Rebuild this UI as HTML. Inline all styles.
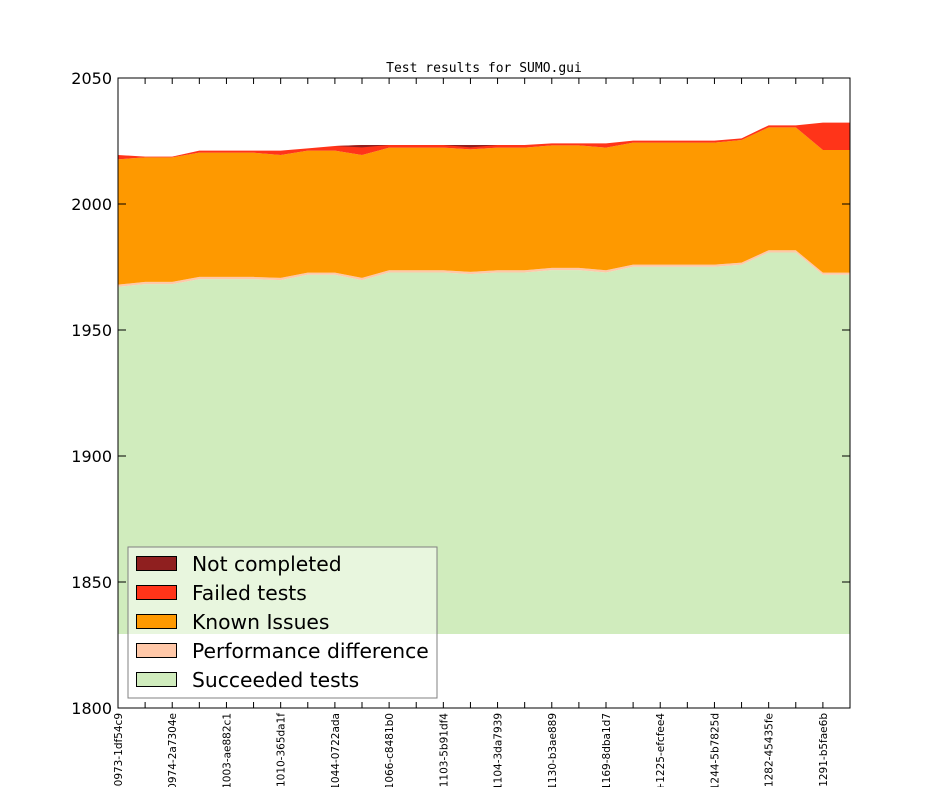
<!DOCTYPE html>
<html><head><meta charset="utf-8"><style>
html,body{margin:0;padding:0;background:#fff;width:944px;height:787px;overflow:hidden}
</style></head><body>
<svg id="s" width="944" height="787" xmlns="http://www.w3.org/2000/svg" font-family="DejaVu Sans, Liberation Sans, sans-serif"></svg>
<script>
var g=[528,520,520,505,505,505,508,492,492,508,485,485,485,490,485,485,478,478,485,468,468,468,468,462,425,425,492,492];
var o=[148,142,142,128,128,128,135,122,122,135,113,113,113,118,113,113,106,106,113,98,98,98,98,90,52,52,120,120];
var r=[135,140,140,122,122,122,122,115,108,105,105,105,105,105,105,105,100,100,100,92,92,92,92,85,46,46,38,38];
var N=28,x0=118,x1=850;
function X(i){return x0+(x1-x0)*i/(N-1);}
function Y(z){return 110+z/3;}
function poly(top,bot,col){var p=[];for(var i=0;i<N;i++)p.push(X(i)+','+top[i]);for(var i=N-1;i>=0;i--)p.push(X(i)+','+bot[i]);return '<polygon points="'+p.join(' ')+'" fill="'+col+'"/>';}
var gy=g.map(function(z){return Y(z)+0.8}),py=gy.map(function(v){return v-2.2}),oy=o.map(Y),ry=r.map(Y),base=[];
for(var i=0;i<N;i++)base.push(634);
var h='';
h+='<text x="484" y="72" font-family="DejaVu Sans Mono, Liberation Mono, monospace" font-size="13" text-anchor="middle">Test results for SUMO.gui</text>';
h+=poly(gy,base,'#d0ecbd');
h+=poly(py,gy,'#ffc8a8');
h+=poly(oy,py,'#fe9900');
h+=poly(ry,oy,'#ff3419');
var dt=ry.slice();var db=ry.slice();
[9,13].forEach(function(i){db[i]=Y(112);});
h+=poly(dt,db,'#8f1f1f');
h+='<rect x="118" y="78" width="732" height="630" fill="none" stroke="#000" stroke-width="1"/>';
var yl=[2050,2000,1950,1900,1850,1800];
yl.forEach(function(v){var y=708-(v-1800)*2.52;h+='<line x1="118" y1="'+y+'" x2="126" y2="'+y+'" stroke="#000"/><line x1="842" y1="'+y+'" x2="850" y2="'+y+'" stroke="#000"/><text x="112" y="'+(y+6)+'" font-size="16" text-anchor="end">'+v+'</text>';});
for(var i=0;i<N;i++){var x=X(i);h+='<line x1="'+x+'" y1="708" x2="'+x+'" y2="702" stroke="#000"/><line x1="'+x+'" y1="78" x2="'+x+'" y2="84" stroke="#000"/>';}
var labs=['-0973-1df54c9','0974-2a7304e','1003-ae882c1','-1010-365da1f','1044-0722ada','1066-c8481b0','-1103-5b91df4','1104-3da7939','1130-b3ae889','1169-8dba1d7','+1225-efcfee4','1244-5b7825d','-1282-45435fe','-1291-b5fae6b'];
labs.forEach(function(t,k){var x=X(2*k)+4;h+='<text transform="translate('+x+',713) rotate(-90)" font-size="10.5" text-anchor="end">'+t+'</text>';});
h+='<rect x="128" y="547" width="309" height="151" fill="#fff" fill-opacity="0.5" stroke="#808080" stroke-width="1"/>';
var leg=[['Not completed','#8f1f1f'],['Failed tests','#ff3419'],['Known Issues','#fe9900'],['Performance difference','#ffc8a8'],['Succeeded tests','#d0ecbd']];
leg.forEach(function(l,k){var y=564+29*k;h+='<rect x="136.5" y="'+(y-7.5)+'" width="40" height="14" fill="'+l[1]+'" stroke="#000"/><text x="192" y="'+(y+7)+'" font-size="20.3">'+l[0]+'</text>';});
document.getElementById('s').innerHTML=h;
</script>
</body></html>
